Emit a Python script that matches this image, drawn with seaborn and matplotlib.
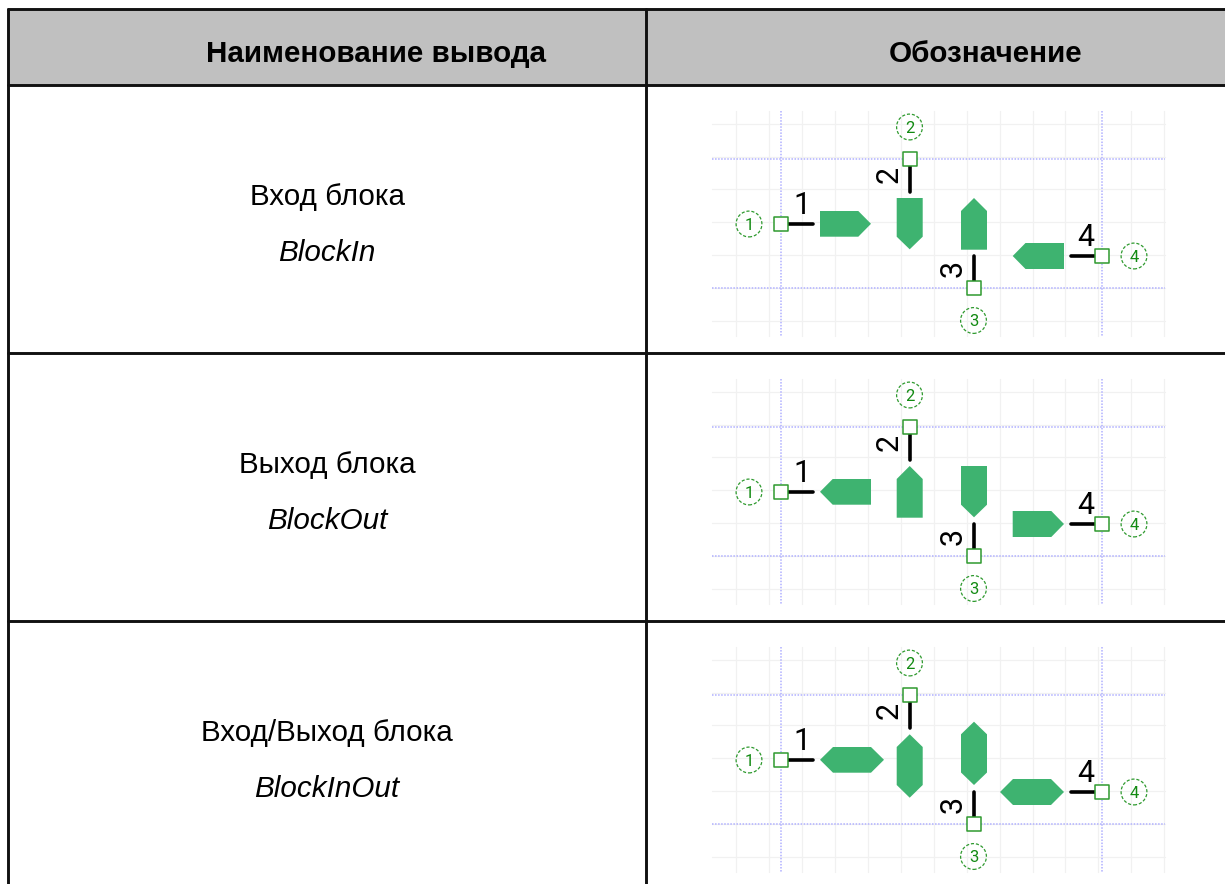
"""
plot.py
-------
Pin types table (block in / out / in-out) drawn on a pixel-sized axes.
"""

import pandas as pd
import matplotlib
matplotlib.use("Agg")
import matplotlib.pyplot as plt
import seaborn as sns


# ── Data ──────────────────────────────────────────────────────────────────────
headers = ["Наименование вывода", "Обозначение"]
row_names = ["Вход блока", "Выход блока", "Вход/Выход блока"]
row_codes = ["BlockIn", "BlockOut", "BlockInOut"]
row_tops = [85, 353, 621]
row_shift = [0, 268, 536]

# table rules
table_left, table_right, table_mid, table_top, table_bottom = 8, 1225, 646, 9, 884

# schematic grid
grid_x = [736.3, 769.3, 802.2, 835.1, 868, 900.9, 933.8, 966.7, 999.6, 1032.5, 1065.4, 1098.3, 1131.2, 1164]
grid_y = [123.7, 156.5, 189.3, 222.3, 255.3, 288, 321.3]
guide_x = [781, 1102]
guide_y = [159.3, 288]
sheet_x = [712, 1165]
sheet_y = [111, 336]

# pins: number, pin end, lead end, callout centre
pin_no = ["1", "2", "3", "4"]
pin_x = [781, 909.7, 974, 1102]
pin_y = [223.7, 159.3, 288, 256]
lead_x = [813, 909.7, 974, 1070.5]
lead_y = [223.7, 191.5, 255.5, 256]
call_x = [749, 909.5, 973.5, 1134]
call_y = [224, 127, 320.5, 256]
num_x = [802, 889.5, 953, 1086]
num_y = [202, 177.5, 271, 234.5]
num_rot = [0, 90, 90, 0]

# direction markers, one outline per pin, per row
mark_xs = [
    [
        [820, 858.3, 871, 858.3, 820],
        [896.7, 922.7, 922.7, 909.7, 896.7],
        [961, 974, 987, 987, 961],
        [1064, 1025.5, 1012.7, 1025.5, 1064],
    ],
    [
        [871, 832.7, 820, 832.7, 871],
        [896.7, 909.7, 922.7, 922.7, 896.7],
        [961, 987, 987, 974, 961],
        [1012.7, 1051.3, 1064, 1051.3, 1012.7],
    ],
    [
        [820, 833, 871, 884, 871, 833],
        [909.7, 922.7, 922.7, 909.7, 896.7, 896.7],
        [974, 987, 987, 974, 961, 961],
        [1000, 1013, 1051, 1064, 1051, 1013],
    ],
]
mark_ys = [
    [
        [211, 211, 223.8, 236.7, 236.7],
        [198, 198, 236.7, 249.3, 236.7],
        [211, 198, 211, 249.7, 249.7],
        [243, 243, 256, 269, 269],
    ],
    [
        [211, 211, 223.8, 236.7, 236.7],
        [211, 198, 211, 249.7, 249.7],
        [198, 198, 236.7, 249.3, 236.7],
        [243, 243, 256, 269, 269],
    ],
    [
        [223.8, 211, 211, 223.8, 236.7, 236.7],
        [198.3, 211, 249, 261.7, 249, 211],
        [185.7, 198.3, 236.5, 249, 236.5, 198.3],
        [256, 243, 243, 256, 269, 269],
    ],
]

GREEN_FILL = "#3eb370"
GREEN_LINE = "#2f9a2f"
GREEN_TEXT = "#128a12"
GUIDE = "#b0b0ff"
GRID = "#f1f1f1"
HEAD = "#c0c0c0"


def draw_lines(ax, segments, **kw):
    # every segment is (x0, y0, x1, y1); seaborn keeps them apart through units
    rows = []
    for i, (x0, y0, x1, y1) in enumerate(segments):
        rows.append({"seg": i, "x": x0, "y": y0, "n": 0})
        rows.append({"seg": i, "x": x1, "y": y1, "n": 1})
    sns.lineplot(data=pd.DataFrame(rows), x="x", y="y", units="seg", estimator=None,
                 sort=False, legend=False, ax=ax, **kw)


# ── Figure ────────────────────────────────────────────────────────────────────
sns.set_theme(style="white")
plt.rcParams["font.family"] = ["Liberation Sans", "DejaVu Sans"]

fig = plt.figure(figsize=(12.25, 8.84), dpi=100)
ax = fig.add_axes([0, 0, 1, 1])

# header band
ax.fill([table_left, table_right, table_right, table_left],
        [table_top, table_top, row_tops[0], row_tops[0]], color=HEAD, lw=0, zorder=0)

# ── Schematics ────────────────────────────────────────────────────────────────
for r, dy in enumerate(row_shift):
    draw_lines(ax, [(x, sheet_y[0] + dy, x, sheet_y[1] + dy) for x in grid_x]
               + [(sheet_x[0], y + dy, sheet_x[1], y + dy) for y in grid_y],
               color=GRID, lw=0.9, zorder=1)
    draw_lines(ax, [(x, sheet_y[0] + dy, x, sheet_y[1] + dy) for x in guide_x]
               + [(sheet_x[0], y + dy, sheet_x[1], y + dy) for y in guide_y],
               color=GUIDE, lw=1.1, linestyle=(0, (1, 1)), zorder=2)

    for xs, ys in zip(mark_xs[r], mark_ys[r]):
        ax.fill(xs, [y + dy for y in ys], color=GREEN_FILL, lw=0, zorder=3)

    draw_lines(ax, [(pin_x[i], pin_y[i] + dy, lead_x[i], lead_y[i] + dy) for i in range(4)],
               color="black", lw=2.6, zorder=4)

    pins = pd.DataFrame({"x": pin_x, "y": [y + dy for y in pin_y]})
    sns.scatterplot(data=pins, x="x", y="y", marker="s", s=92, color="white",
                    edgecolor=GREEN_LINE, linewidth=1.1, ax=ax, zorder=5)

    calls = pd.DataFrame({"x": call_x, "y": [y + dy for y in call_y]})
    sns.scatterplot(data=calls, x="x", y="y", marker="o", s=345, color="none",
                    edgecolor=GREEN_LINE, linewidth=0.9, linestyle=(0, (2.5, 1.5)), ax=ax, zorder=5)

    for i in range(4):
        ax.text(call_x[i], call_y[i] + dy, pin_no[i], ha="center", va="center_baseline",
                fontsize=12, color=GREEN_TEXT, family="Roboto", zorder=6)
        ax.text(num_x[i], num_y[i] + dy, pin_no[i], ha="center", va="center_baseline", rotation=num_rot[i],
                fontsize=22, color="black", family="Roboto", zorder=6)

# ── Table rules ───────────────────────────────────────────────────────────────
rules = [(table_left, y, table_right, y) for y in [table_top] + row_tops]
rules += [(table_left, table_top, table_left, table_bottom),
          (table_mid, table_top, table_mid, table_bottom)]
draw_lines(ax, rules, color="#111111", lw=2.1, zorder=7)

# ── Text ──────────────────────────────────────────────────────────────────────
ax.text(375.5, 54, headers[0], ha="center", va="center", fontsize=21.3, fontweight="bold", color="black")
ax.text(986, 54, headers[1], ha="center", va="center", fontsize=21.3, fontweight="bold", color="black")
for name, code, dy in zip(row_names, row_codes, row_shift):
    ax.text(327, 197 + dy, name, ha="center", va="center", fontsize=21.3, color="black")
    ax.text(327, 253 + dy, code, ha="center", va="center", fontsize=21.3, style="italic", color="black")

ax.set_xlim(0, 1225)
ax.set_ylim(884, 0)
ax.set_axis_off()
fig.savefig("out.png", dpi=100, facecolor="white")
